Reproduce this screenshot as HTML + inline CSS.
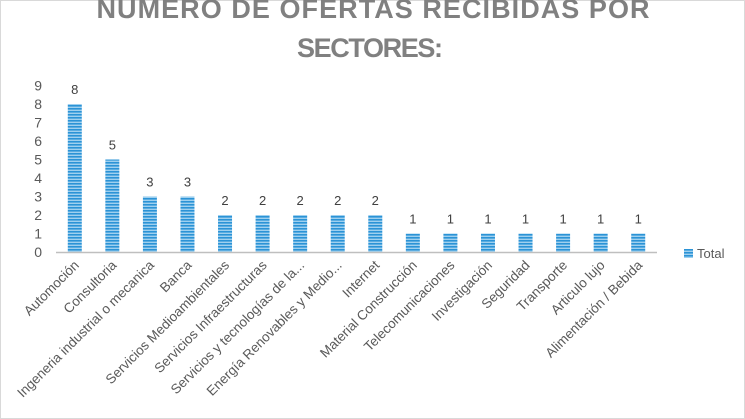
<!DOCTYPE html>
<html><head><meta charset="utf-8"><style>
body{margin:0;background:#fff;}
svg{display:block;font-family:"Liberation Sans",sans-serif;}
</style></head><body>
<svg id="chart" width="745" height="419">
<defs><pattern id="hz" width="4" height="3" patternUnits="userSpaceOnUse"><rect width="4" height="3" fill="#9fd0ef"/><rect width="4" height="1.6" fill="#2b93d6"/></pattern></defs>
<rect x="0.5" y="0.5" width="744" height="418" fill="#fff" stroke="#d9d9d9"/>
<text x="373" y="18" text-anchor="middle" font-size="27" font-weight="bold" fill="#808080" textLength="553" lengthAdjust="spacing">NÚMERO DE OFERTAS RECIBIDAS POR</text>
<text x="370" y="57" text-anchor="middle" font-size="27" font-weight="bold" fill="#808080" textLength="146" lengthAdjust="spacing">SECTORES:</text>
<g id="plot"></g>
<rect x="684" y="249" width="9" height="9" fill="url(#hz)"/>
<text x="697" y="258" font-size="13" fill="#595959">Total</text>
</svg>
<script>
const categories=["Automoción","Consultoria","Ingeneria industrial o mecanica","Banca","Servicios Medioambientales","Servicios Infraestructuras","Servicios y tecnologías de la...","Energía Renovables y Medio...","Internet","Material Construcción","Telecomunicaciones","Investigación","Seguridad","Transporte","Articulo lujo","Alimentación / Bebida"];
const values=[8,5,3,3,2,2,2,2,2,1,1,1,1,1,1,1];
const yTicks=[0,1,2,3,4,5,6,7,8,9];
const NS="http://www.w3.org/2000/svg";
const g=document.getElementById('plot');
const x0=56,x1=657,y0=252,unit=18.5;
const step=(x1-x0)/categories.length;
function xc(i){return x0+step*(i+0.5);}
function yv(v){return y0-v*unit;}
function mk(t,a){const e=document.createElementNS(NS,t);for(const k in a)e.setAttribute(k,a[k]);g.appendChild(e);return e;}
yTicks.forEach(t=>{const e=mk('text',{x:42,y:yv(t)+5,'text-anchor':'end','font-size':14,fill:'#595959'});e.textContent=t;

});
values.forEach((v,i)=>{const b=mk('rect',{x:xc(i)-7,y:yv(v),width:14,height:v*unit,fill:'url(#hz)'});


const l=mk('text',{x:xc(i),y:yv(v)-10,'text-anchor':'middle','font-size':13,fill:'#404040'});l.textContent=v;


const c=mk('text',{x:0,y:0,'text-anchor':'end','font-size':13.5,fill:'#595959',transform:`translate(${xc(i)+5},${y0+14}) rotate(-45)`});c.textContent=categories[i];

});
const ax=mk('line',{x1:x0,y1:y0+0.5,x2:x1,y2:y0+0.5,stroke:'#bfbfbf','stroke-width':1.5});


</script>
</body></html>
